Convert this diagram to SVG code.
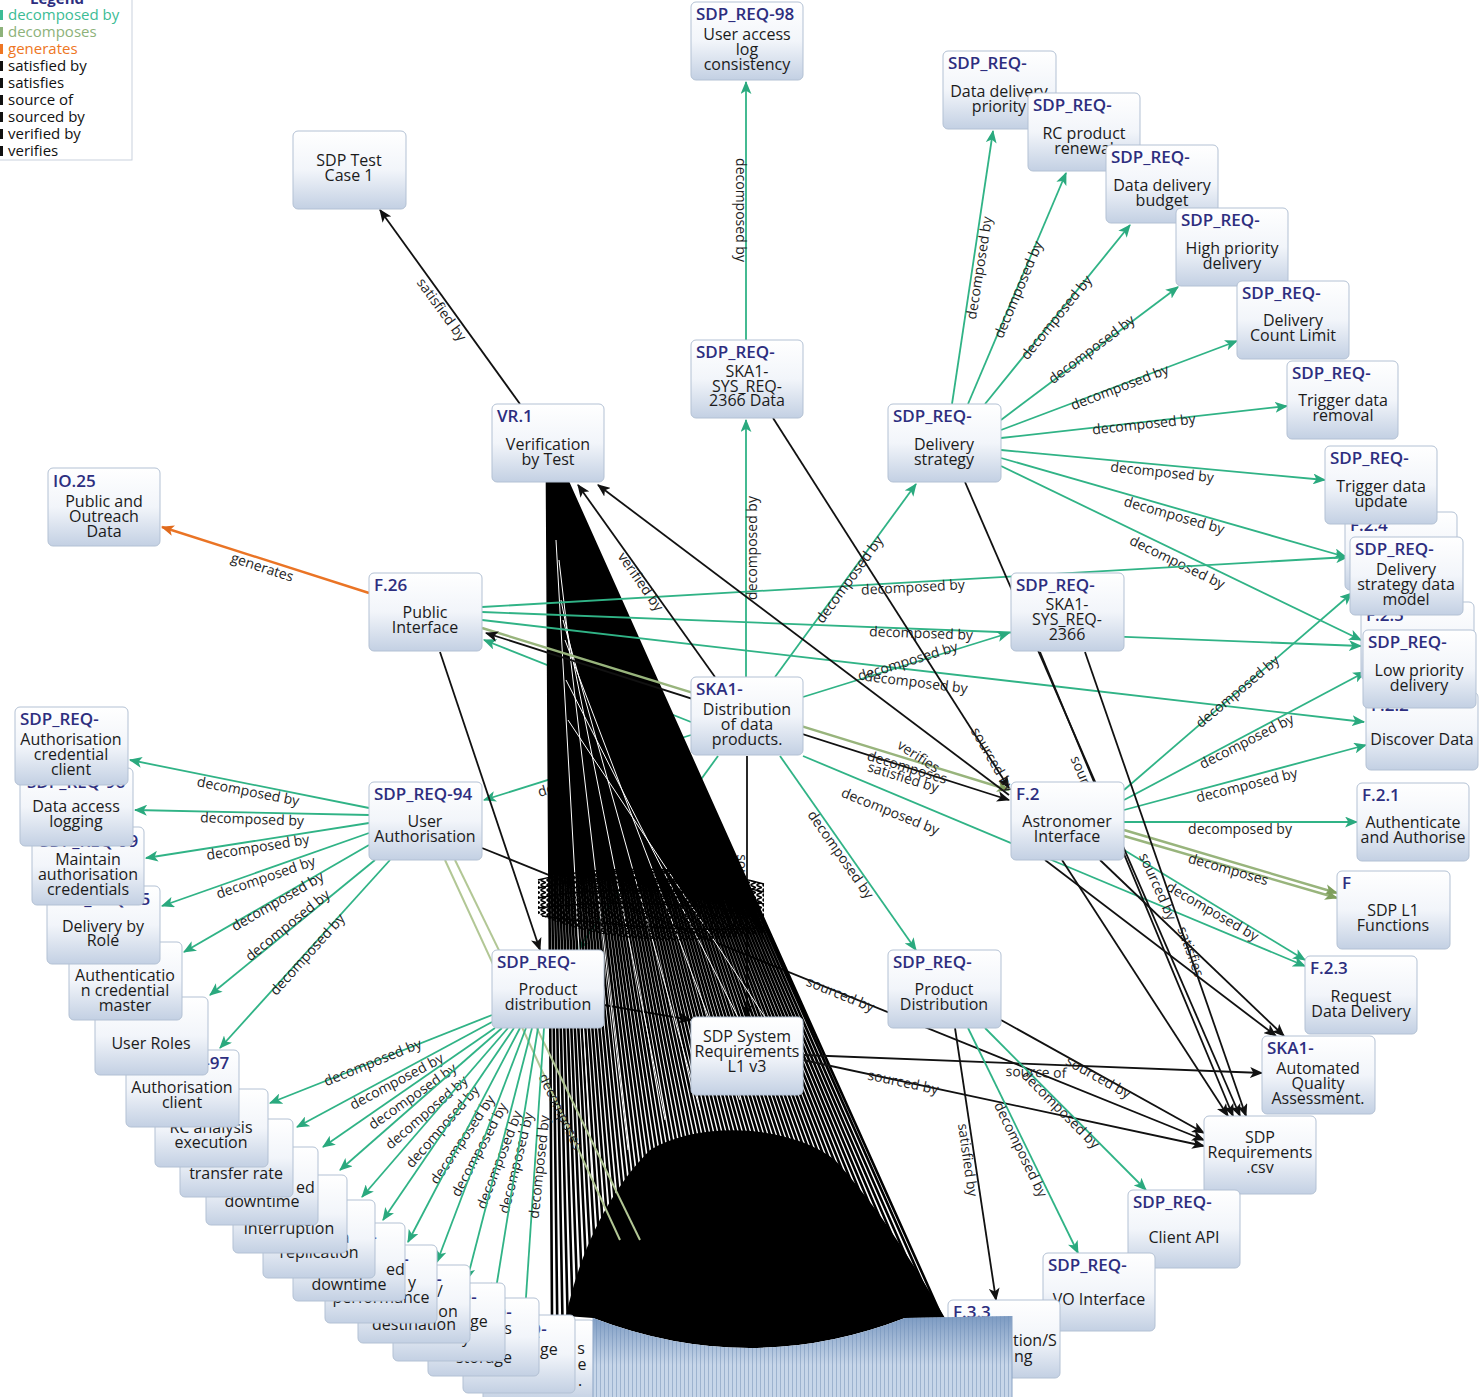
<svg xmlns="http://www.w3.org/2000/svg" width="1480" height="1397" viewBox="0 0 1480 1397">
<defs>
<linearGradient id="ng" x1="0" y1="0" x2="0" y2="1"><stop offset="0" stop-color="#ffffff"/><stop offset="0.5" stop-color="#f2f5fa"/><stop offset="1" stop-color="#c3d0e3"/></linearGradient>
<linearGradient id="bshade" gradientUnits="userSpaceOnUse" x1="0" y1="1316" x2="0" y2="1365"><stop offset="0" stop-color="#6f90bb" stop-opacity="0.85"/><stop offset="1" stop-color="#6f90bb" stop-opacity="0"/></linearGradient>
<pattern id="stk" width="4" height="10" patternUnits="userSpaceOnUse"><rect width="4" height="10" fill="#c7d6e9"/><rect width="1" height="10" fill="#9db3cf"/></pattern>
<pattern id="belt" width="6" height="5" patternUnits="userSpaceOnUse"><path d="M0.5,0.3 L5.5,2.5 L0.5,4.7" fill="none" stroke="#000" stroke-width="1.6"/></pattern>
<marker id="ak" viewBox="0 0 12 10" refX="11" refY="5" markerWidth="13" markerHeight="11" markerUnits="userSpaceOnUse" orient="auto-start-reverse"><path d="M0,0 L12,5 L0,10 L3,5 Z" fill="#111"/></marker>
<marker id="ag" viewBox="0 0 12 10" refX="11" refY="5" markerWidth="13" markerHeight="11" markerUnits="userSpaceOnUse" orient="auto"><path d="M0,0 L12,5 L0,10 L3,5 Z" fill="#2aa97e"/></marker>
<marker id="ao" viewBox="0 0 12 10" refX="11" refY="5" markerWidth="13" markerHeight="11" markerUnits="userSpaceOnUse" orient="auto"><path d="M0,0 L12,5 L0,10 L3,5 Z" fill="#e06a1c"/></marker>
<marker id="aol" viewBox="0 0 12 10" refX="11" refY="5" markerWidth="13" markerHeight="11" markerUnits="userSpaceOnUse" orient="auto"><path d="M0,0 L12,5 L0,10 L3,5 Z" fill="#7f9f5e"/></marker>
<style>
.node rect{fill:url(#ng);stroke:#b3c1d4;stroke-width:1}
.t{font-family:"Open Sans","DejaVu Sans",sans-serif;font-size:17px;font-weight:600;fill:#2d2e7f}
.b{font-family:"Open Sans","DejaVu Sans",sans-serif;font-size:16px;fill:#1b1b1b;text-anchor:middle}
.bs{font-family:"Open Sans","DejaVu Sans",sans-serif;font-size:16px;fill:#1b1b1b}
.lb{font-family:"Open Sans","DejaVu Sans",sans-serif;font-size:14px;fill:#1e1e1e;text-anchor:middle}
.e{fill:none;stroke-width:1.8}
.g{stroke:#30b386;marker-end:url(#ag)}
.k{stroke:#111;marker-end:url(#ak)}
.kb{stroke:#111;marker-end:url(#ak);marker-start:url(#ak)}
.ol{stroke:#98b47c;stroke-width:2.4;marker-end:url(#aol)}
.ol2{stroke:#b2c795;stroke-width:2}
.or{stroke:#ea7425;stroke-width:2.4;marker-end:url(#ao)}
.lg{font-family:"Open Sans","DejaVu Sans",sans-serif;font-size:15px}
</style>
</defs>
<rect width="1480" height="1397" fill="#ffffff"/>

<g id="legend">
<rect x="-1" y="-6" width="133" height="166" fill="#fff" stroke="#c9d1dd"/>
<text class="lg" x="30" y="4" font-weight="700" fill="#2d2e7f">Legend</text>
<rect x="0" y="10" width="3" height="10" fill="#3cbc95"/><text class="lg" x="8" y="20" fill="#3cbc95">decomposed by</text>
<rect x="0" y="27" width="3" height="10" fill="#8db27a"/><text class="lg" x="8" y="37" fill="#8db27a">decomposes</text>
<rect x="0" y="44" width="3" height="10" fill="#ee7623"/><text class="lg" x="8" y="54" fill="#ee7623">generates</text>
<rect x="0" y="61" width="3" height="10" fill="#111"/><text class="lg" x="8" y="71" fill="#111">satisfied by</text>
<rect x="0" y="78" width="3" height="10" fill="#111"/><text class="lg" x="8" y="88" fill="#111">satisfies</text>
<rect x="0" y="95" width="3" height="10" fill="#111"/><text class="lg" x="8" y="105" fill="#111">source of</text>
<rect x="0" y="112" width="3" height="10" fill="#111"/><text class="lg" x="8" y="122" fill="#111">sourced by</text>
<rect x="0" y="129" width="3" height="10" fill="#111"/><text class="lg" x="8" y="139" fill="#111">verified by</text>
<rect x="0" y="146" width="3" height="10" fill="#111"/><text class="lg" x="8" y="156" fill="#111">verifies</text>
</g>

<g id="connectors">
<!-- under the fan -->
<path class="e g" d="M691,735 L484,800"/>
<text class="lb" transform="translate(588 778) rotate(-17)" y="4">decomposed by</text>
<path class="e g" d="M691,722 L484,640"/>
<path class="e g" d="M718,756 L577,950"/>
<path class="e k" d="M747,756 L747,1017"/>
<text class="lb" transform="translate(741 890) rotate(90)" y="4">sourced by</text>
<path class="e k" d="M604,1005 L691,1020"/>
<path class="e k" d="M440,652 L540,950"/>
<path class="e k" d="M482,848 L1204,1140"/>

<!-- fan of edges from VR.1 into the bottom stack -->
<path fill="none" stroke="#000" stroke-width="2.6" d="M547,482L552,1315M547.3,482L557.2,1315M547.6,482L562.4,1315M547.8,482L567.6,1315M548.1,482L572.8,1315M548.4,482L578,1315M548.7,482L583.2,1315M549,482L588.4,1315M549.2,482L593.6,1315M549.5,482L598.8,1315M549.8,482L604,1315M550.1,482L609.2,1315M550.4,482L614.4,1315M550.6,482L619.6,1315M550.9,482L624.8,1315M551.2,482L630,1315M551.5,482L635.2,1315M551.8,482L640.4,1315M552,482L645.6,1315M552.3,482L650.8,1315M552.6,482L656,1315M552.9,482L661.2,1315M553.2,482L666.4,1315M553.4,482L671.6,1315M553.7,482L676.8,1315M554,482L682,1315M554.3,482L687.2,1315M554.6,482L692.4,1315M554.8,482L697.6,1315M555.1,482L702.8,1315M555.4,482L708,1315M555.7,482L713.2,1315M556,482L718.4,1315M556.2,482L723.6,1315M556.5,482L728.8,1315M556.8,482L734,1315M557.1,482L739.2,1315M557.4,482L744.4,1315M557.6,482L749.6,1315M557.9,482L754.8,1315M558.2,482L760,1315M558.5,482L765.2,1315M558.8,482L770.4,1315M559,482L775.6,1315M559.3,482L780.8,1315M559.6,482L786,1315M559.9,482L791.2,1315M560.2,482L796.4,1315M560.4,482L801.6,1315M560.7,482L806.8,1315M561,482L812,1315M561.3,482L817.2,1315M561.6,482L822.4,1315M561.8,482L827.6,1315M562.1,482L832.8,1315M562.4,482L838,1315M562.7,482L843.2,1315M563,482L848.4,1315M563.2,482L853.6,1315M563.5,482L858.8,1315M563.8,482L864,1315M564.1,482L869.2,1315M564.4,482L874.4,1315M564.6,482L879.6,1315M564.9,482L884.8,1315M565.2,482L890,1315M565.5,482L895.2,1315M565.8,482L900.4,1315M566,482L905.6,1315M566.3,482L910.8,1315M566.6,482L916,1315M566.9,482L921.2,1315M567.2,482L926.4,1315M567.4,482L931.6,1315M567.7,482L936.8,1315M568,482L941,1315"/>
<path fill="none" stroke="#fff" stroke-width="1" d="M556,540 L592,1180 M559,560 L628,1150 M561,600 L665,1120 M563,620 L700,1110 M565,640 L740,1100 M566,680 L770,1080 M568,720 L800,1070"/>
<path fill="#000" d="M566,1316 C580,1250 610,1190 650,1150 C700,1120 790,1125 835,1160 C885,1215 920,1275 945,1318 L905,1318 Q750,1378 593,1318 Z"/>
<path fill="url(#belt)" d="M538,880 C600,864 700,866 764,884 L764,932 C700,946 600,944 538,914 Z"/>
<path fill="none" stroke="#000" stroke-width="1.4" d="M538,880 C600,864 700,866 764,884 M538,888 C600,874 700,876 764,892 M538,898 C600,886 700,888 764,904 M538,908 C600,900 700,902 764,916 M542,916 C610,926 700,932 764,928"/>

<!-- labels over the fan -->
<text class="lb" transform="translate(840 995) rotate(22)" y="4">sourced by</text>

<!-- vertical top chain -->
<path class="e g" d="M746,340 L746,82"/>
<text class="lb" transform="translate(740 210) rotate(90)" y="4">decomposed by</text>
<path class="e g" d="M746,677 L746,420"/>
<text class="lb" transform="translate(753 548) rotate(-90)" y="4">decomposed by</text>

<!-- delivery strategy fan -->
<path class="e g" d="M952,404 L993,131"/>
<text class="lb" transform="translate(980 268) rotate(-81)" y="4">decomposed by</text>
<path class="e g" d="M968,404 L1066,173"/>
<text class="lb" transform="translate(1019 290) rotate(-67)" y="4">decomposed by</text>
<path class="e g" d="M985,404 L1130,225"/>
<text class="lb" transform="translate(1057 318) rotate(-51)" y="4">decomposed by</text>
<path class="e g" d="M1001,420 L1178,287"/>
<text class="lb" transform="translate(1092 350) rotate(-37)" y="4">decomposed by</text>
<path class="e g" d="M1001,430 L1237,341"/>
<text class="lb" transform="translate(1120 388) rotate(-21)" y="4">decomposed by</text>
<path class="e g" d="M1001,438 L1287,406"/>
<text class="lb" transform="translate(1144 425) rotate(-6)" y="4">decomposed by</text>
<path class="e g" d="M1001,450 L1325,480"/>
<text class="lb" transform="translate(1162 473) rotate(6)" y="4">decomposed by</text>
<path class="e g" d="M1001,458 L1346,557"/>
<text class="lb" transform="translate(1174 516) rotate(16)" y="4">decomposed by</text>
<path class="e g" d="M1001,466 L1361,640"/>
<text class="lb" transform="translate(1177 563) rotate(26)" y="4">decomposed by</text>

<!-- Public Interface edges -->
<path class="e or" d="M369,593 L162,527"/>
<text class="lb" transform="translate(262 568) rotate(18)" y="4">generates</text>
<path class="e g" d="M482,607 L1348,557"/>
<text class="lb" transform="translate(913 588) rotate(-3)" y="4">decomposed by</text>
<path class="e g" d="M482,612 L1361,646"/>
<text class="lb" transform="translate(921 634) rotate(2)" y="4">decomposed by</text>
<path class="e g" d="M482,620 L1364,722"/>
<text class="lb" transform="translate(916 683) rotate(7)" y="4">decomposed by</text>
<path class="e ol" d="M482,628 L1009,790"/>
<path class="e kb" d="M486,633 L1009,800"/>

<!-- Distribution of data products edges -->
<path class="e g" d="M803,697 L1009,633"/>
<text class="lb" transform="translate(908 662) rotate(-17)" y="4">decomposed by</text>
<path class="e g" d="M775,677 L916,484"/>
<text class="lb" transform="translate(850 580) rotate(-54)" y="4">decomposed by</text>
<path class="e k" d="M715,677 L578,485"/>
<text class="lb" transform="translate(640 582) rotate(55)" y="4">verified by</text>
<path class="e k" d="M1009,795 L598,485"/>
<text class="lb" transform="translate(918 757) rotate(33)" y="4">verifies</text>
<text class="lb" transform="translate(907 768) rotate(17)" y="4">decomposes</text>
<text class="lb" transform="translate(903 778) rotate(17)" y="4">satisfied by</text>
<path class="e k" d="M773,418 L1009,788"/>
<text class="lb" transform="translate(992 760) rotate(60)" y="4">sourced by</text>
<path class="e g" d="M780,756 L916,950"/>
<text class="lb" transform="translate(840 855) rotate(55)" y="4">decomposed by</text>
<path class="e g" d="M803,756 L1305,966"/>
<text class="lb" transform="translate(890 812) rotate(22)" y="4">decomposed by</text>

<!-- test case -->
<path class="e k" d="M520,404 L380,210"/>
<text class="lb" transform="translate(441 310) rotate(54)" y="4">satisfied by</text>

<!-- Astronomer Interface edges -->
<path class="e g" d="M1124,790 L1352,593"/>
<text class="lb" transform="translate(1238 692) rotate(-40)" y="4">decomposed by</text>
<path class="e g" d="M1124,800 L1365,672"/>
<text class="lb" transform="translate(1247 742) rotate(-27)" y="4">decomposed by</text>
<path class="e g" d="M1124,810 L1366,745"/>
<text class="lb" transform="translate(1247 786) rotate(-14)" y="4">decomposed by</text>
<path class="e g" d="M1124,822 L1357,822"/>
<text class="lb" transform="translate(1240 830)" y="4">decomposed by</text>
<path class="e ol" d="M1124,830 L1337,893"/>
<path class="e ol" d="M1124,836 L1337,898"/>
<text class="lb" transform="translate(1228 870) rotate(16)" y="4">decomposes</text>
<path class="e g" d="M1124,850 L1305,960"/>
<text class="lb" transform="translate(1212 912) rotate(30)" y="4">decomposed by</text>
<path class="e k" d="M965,482 L1240,1116"/>
<text class="lb" transform="translate(1157 887) rotate(66)" y="4">sourced by</text>
<path class="e k" d="M1040,652 L1233,1116"/>
<text class="lb" transform="translate(1088 790) rotate(67)" y="4">sourced by</text>
<path class="e k" d="M1085,652 L1246,1116"/>
<text class="lb" transform="translate(1190 952) rotate(70)" y="4">satisfies</text>
<path class="e k" d="M1045,860 L1276,1036"/>
<path class="e k" d="M1062,860 L1228,1116"/>
<path class="e k" d="M1100,860 L1284,1036"/>

<!-- Product Distribution (right) edges -->
<path class="e k" d="M1001,1020 L1204,1133"/>
<text class="lb" transform="translate(1098 1078) rotate(29)" y="4">sourced by</text>
<path class="e k" d="M803,1055 L1262,1073"/>
<text class="lb" transform="translate(1036 1073) rotate(2)" y="4">source of</text>
<path class="e k" d="M803,1060 L1204,1146"/>
<text class="lb" transform="translate(903 1083) rotate(12)" y="4">sourced by</text>
<path class="e k" d="M955,1028 L996,1300"/>
<text class="lb" transform="translate(967 1160) rotate(82)" y="4">satisfied by</text>
<path class="e g" d="M968,1028 L1078,1253"/>
<text class="lb" transform="translate(1020 1150) rotate(64)" y="4">decomposed by</text>
<path class="e g" d="M985,1028 L1146,1190"/>
<text class="lb" transform="translate(1060 1110) rotate(45)" y="4">decomposed by</text>

<!-- User Authorisation fan -->
<path class="e g" d="M369,808 L130,760"/>
<text class="lb" transform="translate(248 792) rotate(11)" y="4">decomposed by</text>
<path class="e g" d="M369,815 L135,810"/>
<text class="lb" transform="translate(252 820) rotate(2)" y="4">decomposed by</text>
<path class="e g" d="M369,823 L146,858"/>
<text class="lb" transform="translate(258 848) rotate(-9)" y="4">decomposed by</text>
<path class="e g" d="M369,833 L162,906"/>
<text class="lb" transform="translate(266 878) rotate(-19)" y="4">decomposed by</text>
<path class="e g" d="M369,845 L184,952"/>
<text class="lb" transform="translate(278 902) rotate(-30)" y="4">decomposed by</text>
<path class="e g" d="M375,860 L210,995"/>
<text class="lb" transform="translate(288 926) rotate(-39)" y="4">decomposed by</text>
<path class="e g" d="M390,860 L220,1048"/>
<text class="lb" transform="translate(308 955) rotate(-48)" y="4">decomposed by</text>
<path class="e ol2" d="M445,860 L620,1240"/>
<path class="e ol2" d="M455,860 L640,1240"/>
<text class="lb" transform="translate(560 1112) rotate(64)" y="4">decomposes</text>

<!-- Product distribution (left) fan -->
<path class="e g" d="M492,1015 L270,1103"/>
<text class="lb" transform="translate(373 1063) rotate(-22)" y="4">decomposed by</text>
<path class="e g" d="M492,1022 L297,1127"/>
<text class="lb" transform="translate(397 1082) rotate(-28)" y="4">decomposed by</text>
<path class="e g" d="M495,1028 L323,1147"/>
<text class="lb" transform="translate(413 1097) rotate(-35)" y="4">decomposed by</text>
<path class="e g" d="M502,1028 L340,1170"/>
<text class="lb" transform="translate(427 1113) rotate(-41)" y="4">decomposed by</text>
<path class="e g" d="M508,1028 L362,1197"/>
<text class="lb" transform="translate(443 1127) rotate(-49)" y="4">decomposed by</text>
<path class="e g" d="M514,1028 L383,1220"/>
<text class="lb" transform="translate(463 1140) rotate(-56)" y="4">decomposed by</text>
<path class="e g" d="M520,1028 L408,1242"/>
<text class="lb" transform="translate(480 1150) rotate(-62)" y="4">decomposed by</text>
<path class="e g" d="M526,1028 L437,1262"/>
<text class="lb" transform="translate(500 1160) rotate(-69)" y="4">decomposed by</text>
<path class="e g" d="M532,1028 L467,1280"/>
<text class="lb" transform="translate(517 1163) rotate(-76)" y="4">decomposed by</text>
<path class="e g" d="M538,1028 L495,1295"/>
<path class="e g" d="M544,1028 L525,1312"/>
<text class="lb" transform="translate(540 1167) rotate(-84)" y="4">decomposed by</text>
</g>

<g id="nodes">
<g id="n-98" class="node"><rect x="691" y="2" width="112" height="78" rx="5"/><text class="t" x="696" y="20">SDP_REQ-98</text><text class="b" x="747" y="40">User access</text><text class="b" x="747" y="55">log</text><text class="b" x="747" y="70">consistency</text></g>
<g id="n-testcase" class="node"><rect x="293" y="131" width="113" height="78" rx="5"/><text class="b" x="349" y="166">SDP Test</text><text class="b" x="349" y="181">Case 1</text></g>
<g id="n-sysreq-data" class="node"><rect x="691" y="340" width="112" height="78" rx="5"/><text class="t" x="696" y="358">SDP_REQ-</text><text class="b" x="747" y="377">SKA1-</text><text class="b" x="747" y="392">SYS_REQ-</text><text class="b" x="747" y="406">2366 Data</text></g>
<g id="n-vr1" class="node"><rect x="492" y="404" width="112" height="78" rx="5"/><text class="t" x="497" y="422">VR.1</text><text class="b" x="548" y="450">Verification</text><text class="b" x="548" y="465">by Test</text></g>
<g id="n-io25" class="node"><rect x="48" y="468" width="112" height="78" rx="5"/><text class="t" x="53" y="487">IO.25</text><text class="b" x="104" y="507">Public and</text><text class="b" x="104" y="522">Outreach</text><text class="b" x="104" y="537">Data</text></g>
<g id="n-f26" class="node"><rect x="369" y="573" width="113" height="78" rx="5"/><text class="t" x="374" y="591">F.26</text><text class="b" x="425" y="618">Public</text><text class="b" x="425" y="633">Interface</text></g>
<g id="n-skadist" class="node"><rect x="691" y="677" width="112" height="78" rx="5"/><text class="t" x="696" y="695">SKA1-</text><text class="b" x="747" y="715">Distribution</text><text class="b" x="747" y="730">of data</text><text class="b" x="747" y="745">products.</text></g>
<g id="n-dstrat" class="node"><rect x="888" y="404" width="113" height="78" rx="5"/><text class="t" x="893" y="422">SDP_REQ-</text><text class="b" x="944" y="450">Delivery</text><text class="b" x="944" y="465">strategy</text></g>
<g id="n-sysreq2366" class="node"><rect x="1011" y="573" width="113" height="78" rx="5"/><text class="t" x="1016" y="591">SDP_REQ-</text><text class="b" x="1067" y="610">SKA1-</text><text class="b" x="1067" y="625">SYS_REQ-</text><text class="b" x="1067" y="640">2366</text></g>
<g id="n-f2" class="node"><rect x="1011" y="782" width="113" height="78" rx="5"/><text class="t" x="1016" y="800">F.2</text><text class="b" x="1067" y="827">Astronomer</text><text class="b" x="1067" y="842">Interface</text></g>
<g id="n-r94" class="node"><rect x="369" y="782" width="113" height="78" rx="5"/><text class="t" x="374" y="800">SDP_REQ-94</text><text class="b" x="425" y="827">User</text><text class="b" x="425" y="842">Authorisation</text></g>
<g id="n-pdist-l" class="node"><rect x="492" y="950" width="112" height="78" rx="5"/><text class="t" x="497" y="968">SDP_REQ-</text><text class="b" x="548" y="995">Product</text><text class="b" x="548" y="1010">distribution</text></g>
<g id="n-pdist-r" class="node"><rect x="888" y="950" width="113" height="78" rx="5"/><text class="t" x="893" y="968">SDP_REQ-</text><text class="b" x="944" y="995">Product</text><text class="b" x="944" y="1010">Distribution</text></g>
<g id="n-sysreqdoc" class="node"><rect x="691" y="1017" width="112" height="78" rx="5"/><text class="b" x="747" y="1042">SDP System</text><text class="b" x="747" y="1057">Requirements</text><text class="b" x="747" y="1072">L1 v3</text></g>

<g id="n-ddp" class="node"><rect x="943" y="51" width="113" height="78" rx="5"/><text class="t" x="948" y="69">SDP_REQ-</text><text class="b" x="999" y="97">Data delivery</text><text class="b" x="999" y="112">priority</text></g>
<g id="n-rcr" class="node"><rect x="1028" y="93" width="112" height="78" rx="5"/><text class="t" x="1033" y="111">SDP_REQ-</text><text class="b" x="1084" y="139">RC product</text><text class="b" x="1084" y="154">renewal</text></g>
<g id="n-ddb" class="node"><rect x="1106" y="145" width="112" height="78" rx="5"/><text class="t" x="1111" y="163">SDP_REQ-</text><text class="b" x="1162" y="191">Data delivery</text><text class="b" x="1162" y="206">budget</text></g>
<g id="n-hpd" class="node"><rect x="1176" y="208" width="112" height="78" rx="5"/><text class="t" x="1181" y="226">SDP_REQ-</text><text class="b" x="1232" y="254">High priority</text><text class="b" x="1232" y="269">delivery</text></g>
<g id="n-dcl" class="node"><rect x="1237" y="281" width="112" height="78" rx="5"/><text class="t" x="1242" y="299">SDP_REQ-</text><text class="b" x="1293" y="326">Delivery</text><text class="b" x="1293" y="341">Count Limit</text></g>
<g id="n-tdr" class="node"><rect x="1287" y="361" width="111" height="78" rx="5"/><text class="t" x="1292" y="379">SDP_REQ-</text><text class="b" x="1343" y="406">Trigger data</text><text class="b" x="1343" y="421">removal</text></g>
<g id="n-f24" class="node"><rect x="1345" y="512" width="112" height="78" rx="5"/><text class="t" x="1350" y="531">F.2.4</text></g>
<g id="n-tdu" class="node"><rect x="1325" y="446" width="112" height="78" rx="5"/><text class="t" x="1330" y="464">SDP_REQ-</text><text class="b" x="1381" y="492">Trigger data</text><text class="b" x="1381" y="507">update</text></g>
<g id="n-f25" class="node"><rect x="1361" y="602" width="113" height="78" rx="5"/><text class="t" x="1366" y="621">F.2.5</text></g>
<g id="n-dsdm" class="node"><rect x="1350" y="537" width="113" height="78" rx="5"/><text class="t" x="1355" y="555">SDP_REQ-</text><text class="b" x="1406" y="575">Delivery</text><text class="b" x="1406" y="590">strategy data</text><text class="b" x="1406" y="605">model</text></g>
<g id="n-f22" class="node"><rect x="1366" y="692" width="112" height="78" rx="5"/><text class="t" x="1371" y="711">F.2.2</text><text class="b" x="1422" y="745">Discover Data</text></g>
<g id="n-lpd" class="node"><rect x="1363" y="630" width="113" height="78" rx="5"/><text class="t" x="1368" y="648">SDP_REQ-</text><text class="b" x="1419" y="676">Low priority</text><text class="b" x="1419" y="691">delivery</text></g>
<g id="n-f21" class="node"><rect x="1357" y="783" width="112" height="78" rx="5"/><text class="t" x="1362" y="801">F.2.1</text><text class="b" x="1413" y="828">Authenticate</text><text class="b" x="1413" y="843">and Authorise</text></g>
<g id="n-f" class="node"><rect x="1337" y="871" width="113" height="78" rx="5"/><text class="t" x="1342" y="889">F</text><text class="b" x="1393" y="916">SDP L1</text><text class="b" x="1393" y="931">Functions</text></g>
<g id="n-f23" class="node"><rect x="1305" y="956" width="112" height="78" rx="5"/><text class="t" x="1310" y="974">F.2.3</text><text class="b" x="1361" y="1002">Request</text><text class="b" x="1361" y="1017">Data Delivery</text></g>
<g id="n-aqa" class="node"><rect x="1262" y="1036" width="113" height="78" rx="5"/><text class="t" x="1267" y="1054">SKA1-</text><text class="b" x="1318" y="1074">Automated</text><text class="b" x="1318" y="1089">Quality</text><text class="b" x="1318" y="1104">Assessment.</text></g>
<g id="n-csv" class="node"><rect x="1204" y="1116" width="112" height="78" rx="5"/><text class="b" x="1260" y="1143">SDP</text><text class="b" x="1260" y="1158">Requirements</text><text class="b" x="1260" y="1173">.csv</text></g>
<g id="n-capi" class="node"><rect x="1128" y="1190" width="112" height="78" rx="5"/><text class="t" x="1133" y="1208">SDP_REQ-</text><text class="b" x="1184" y="1243">Client API</text></g>
<g id="n-vo" class="node"><rect x="1043" y="1253" width="112" height="78" rx="5"/><text class="t" x="1048" y="1271">SDP_REQ-</text><text class="b" x="1099" y="1305">VO Interface</text></g>
<g id="n-f33" class="node"><rect x="948" y="1300" width="112" height="78" rx="5"/><text class="t" x="953" y="1318">F.3.3</text><text class="bs" x="1013" y="1346">tion/S</text><text class="bs" x="1014" y="1362">ng</text></g>

<!-- lower-left stack (drawn from the back) -->
<g id="n-stack-m" class="node"><rect x="483" y="1320" width="112" height="82" rx="5"/><text class="t" x="488" y="1340">SDP_REQ-</text><text class="b" x="581" y="1354">s</text><text class="b" x="582" y="1370">e</text><text class="b" x="580" y="1386">.</text></g>
<g id="n-stack-l" class="node"><rect x="463" y="1315" width="112" height="78" rx="5"/><text class="t" x="468" y="1335">SDP_REQ-</text><text class="bs" x="540" y="1355">ge</text></g>
<g id="n-storage" class="node"><rect x="428" y="1298" width="111" height="78" rx="5"/><text class="t" x="433" y="1318">SDP_REQ-</text><text class="b" x="508" y="1334">s</text><text class="b" x="484" y="1363">storage</text></g>
<g id="n-stack-j" class="node"><rect x="393" y="1283" width="112" height="78" rx="5"/><text class="t" x="398" y="1303">SDP_REQ-</text><text class="bs" x="470" y="1327">ge</text><text class="b" x="466" y="1343">y</text></g>
<g id="n-destination" class="node"><rect x="358" y="1265" width="112" height="78" rx="5"/><text class="t" x="363" y="1285">SDP_REQ-</text><text class="b" x="440" y="1297">/</text><text class="b" x="448" y="1317">on</text><text class="b" x="414" y="1330">destination</text></g>
<g id="n-performance" class="node"><rect x="325" y="1245" width="112" height="78" rx="5"/><text class="t" x="330" y="1265">SDP_REQ-</text><text class="b" x="412" y="1288">y</text><text class="b" x="381" y="1303">performance</text></g>
<g id="n-downtime2" class="node"><rect x="293" y="1223" width="112" height="78" rx="5"/><text class="t" x="298" y="1243">SDP_REQ-</text><text class="bs" x="386" y="1275">ed</text><text class="b" x="349" y="1290">downtime</text></g>
<g id="n-replication" class="node"><rect x="263" y="1200" width="112" height="78" rx="5"/><text class="t" x="268" y="1220">SDP_REQ-</text><text class="b" x="345" y="1243">a</text><text class="b" x="319" y="1258">replication</text></g>
<g id="n-interruption" class="node"><rect x="233" y="1175" width="114" height="78" rx="5"/><text class="t" x="238" y="1195">SDP_REQ-</text><text class="b" x="289" y="1234">interruption</text></g>
<g id="n-downtime1" class="node"><rect x="206" y="1147" width="112" height="78" rx="5"/><text class="t" x="211" y="1167">SDP_REQ-</text><text class="bs" x="296" y="1193">ed</text><text class="b" x="262" y="1207">downtime</text></g>
<g id="n-transfer" class="node"><rect x="180" y="1119" width="113" height="78" rx="5"/><text class="t" x="185" y="1139">SDP_REQ-</text><text class="b" x="236" y="1179">transfer rate</text></g>
<g id="n-rc" class="node"><rect x="155" y="1089" width="113" height="78" rx="5"/><text class="t" x="160" y="1109">SDP_REQ-</text><text class="b" x="211" y="1133">RC analysis</text><text class="b" x="211" y="1148">execution</text></g>
<g id="n-97" class="node"><rect x="126" y="1050" width="113" height="77" rx="5"/><text class="t" x="131" y="1069">SDP_REQ-97</text><text class="b" x="182" y="1093">Authorisation</text><text class="b" x="182" y="1108">client</text></g>
<g id="n-userroles" class="node"><rect x="95" y="997" width="113" height="78" rx="5"/><text class="t" x="100" y="1016">SDP_REQ-</text><text class="b" x="151" y="1049">User Roles</text></g>
<g id="n-acm" class="node"><rect x="69" y="942" width="113" height="78" rx="5"/><text class="t" x="74" y="961">SDP_REQ-</text><text class="b" x="125" y="981">Authenticatio</text><text class="b" x="125" y="996">n credential</text><text class="b" x="125" y="1011">master</text></g>
<g id="n-dbr" class="node"><rect x="47" y="886" width="113" height="78" rx="5"/><text class="t" x="52" y="905">SDP_REQ-95</text><text class="b" x="103" y="932">Delivery by</text><text class="b" x="103" y="946">Role</text></g>
<g id="n-mac" class="node"><rect x="32" y="827" width="112" height="78" rx="5"/><text class="t" x="40" y="847">SDP_REQ-99</text><text class="b" x="88" y="865">Maintain</text><text class="b" x="88" y="880">authorisation</text><text class="b" x="88" y="895">credentials</text></g>
<g id="n-dal" class="node"><rect x="20" y="768" width="113" height="78" rx="5"/><text class="t" x="27" y="788">SDP_REQ-96</text><text class="b" x="76" y="812">Data access</text><text class="b" x="76" y="827">logging</text></g>
<g id="n-acc" class="node"><rect x="15" y="707" width="113" height="78" rx="5"/><text class="t" x="20" y="725">SDP_REQ-</text><text class="b" x="71" y="745">Authorisation</text><text class="b" x="71" y="760">credential</text><text class="b" x="71" y="775">client</text></g>

<!-- dense stack of overlapping nodes along the bottom -->
<g id="n-bottom-stack">
<path d="M593,1318 Q750,1378 905,1318 L1012,1316 L1012,1397 L593,1397 Z" fill="url(#stk)"/>
<path d="M593,1318 Q750,1378 905,1318 L1012,1316 L1012,1397 L593,1397 Z" fill="url(#bshade)"/>
<path d="M593,1318 L593,1397 M1012,1316 L1012,1397" stroke="#8aa3c4" stroke-width="1"/>
</g>
</g>
</svg>
